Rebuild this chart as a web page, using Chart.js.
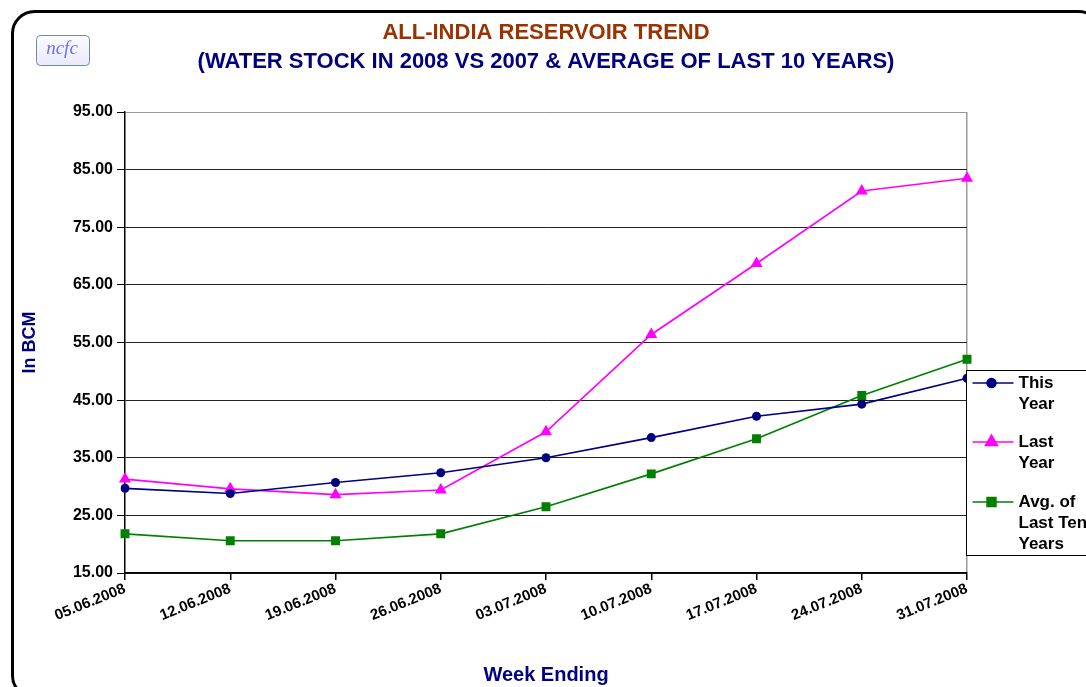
<!DOCTYPE html>
<html>
<head>
<meta charset="utf-8">
<script src="https://cdn.jsdelivr.net/npm/chart.js@4.4.1/dist/chart.umd.min.js"></script>
<style>
  html, body { margin: 0; padding: 0; background: #fff; }
  #wrap { width: 1086px; height: 687px; position: relative; }
</style>
</head>
<body>
<div id="wrap"><canvas id="chart" width="1086" height="687"></canvas></div>
<script>
let weeks = ["05.06.2008", "12.06.2008", "19.06.2008", "26.06.2008", "03.07.2008",
  "10.07.2008", "17.07.2008", "24.07.2008", "31.07.2008"];
let this_year = [29.7, 28.8, 30.7, 32.4, 35.0, 38.5, 42.2, 44.3, 48.8];
let last_year = [31.3, 29.6, 28.6, 29.4, 39.5, 56.4, 68.7, 81.3, 83.5];
let avg_ten = [21.8, 20.6, 20.6, 21.8, 26.5, 32.2, 38.3, 45.8, 52.1];
let legend_labels = [["This", "Year"], ["Last", "Year"], ["Avg. of", "Last Ten", "Years"]];

let font_family = "'Liberation Sans', Arial, sans-serif";
let color_this = "#000080";
let color_last = "#FF00FF";
let color_avg = "#008000";

// frame, logo and the boxed legend drawn on the canvas
let decorations = {
  id: "decorations",
  beforeDraw(chart) {
    let ctx = chart.ctx;
    ctx.save();
    ctx.fillStyle = "#fff";
    ctx.fillRect(0, 0, chart.width, chart.height);
    ctx.lineWidth = 3;
    ctx.strokeStyle = "#000";
    ctx.beginPath();
    ctx.roundRect(12.5, 11.5, 1088, 686, 22);
    ctx.stroke();

    // logo
    ctx.lineWidth = 1;
    ctx.strokeStyle = "#6f8f8f";
    let grad = ctx.createLinearGradient(0, 35, 0, 66);
    grad.addColorStop(0, "#fbfbff");
    grad.addColorStop(1, "#e9e9ff");
    ctx.fillStyle = grad;
    ctx.beginPath();
    ctx.roundRect(36.5, 35.5, 53, 30, 4);
    ctx.fill();
    ctx.stroke();
    ctx.fillStyle = "#7070f0";
    ctx.font = "italic 19px 'Liberation Serif', 'DejaVu Serif', serif";
    ctx.textAlign = "center";
    ctx.textBaseline = "middle";
    ctx.fillText("ncfc", 62, 49);
    ctx.restore();
  },
  afterDraw(chart) {
    let ctx = chart.ctx;
    let area = chart.chartArea;
    let left = area.right - 0.5;
    let top = 370.5;
    ctx.save();
    ctx.fillStyle = "#fff";
    ctx.strokeStyle = "#000";
    ctx.lineWidth = 1;
    ctx.fillRect(left, top, 140, 185);
    ctx.strokeRect(left, top, 140, 185);

    let item_y = [383, 442, 502];
    chart.data.datasets.forEach((ds, i) => {
      let y = item_y[i];
      ctx.strokeStyle = ds.borderColor;
      ctx.lineWidth = 1.5;
      ctx.beginPath();
      ctx.moveTo(left + 6, y);
      ctx.lineTo(left + 47, y);
      ctx.stroke();
      Chart.helpers.drawPoint(ctx, {
        pointStyle: ds.pointStyle,
        radius: ds.pointRadius,
        rotation: 0,
        borderWidth: 1
      }, left + 25, y);
      ctx.fillStyle = ds.borderColor;
      ctx.fill();
      ctx.fillStyle = "#000";
      ctx.font = "bold 17px " + font_family;
      ctx.textAlign = "left";
      ctx.textBaseline = "middle";
      legend_labels[i].forEach((line, j) => {
        ctx.fillText(line, left + 52, y + j * 21);
      });
    });
    ctx.restore();
  }
};

let config = {
  type: "line",
  data: {
    labels: weeks,
    datasets: [
      {
        label: "This Year",
        data: this_year,
        borderColor: color_this,
        backgroundColor: color_this,
        borderWidth: 1.7,
        pointStyle: "circle",
        pointRadius: 4.5,
        pointBorderWidth: 0
      },
      {
        label: "Last Year",
        data: last_year,
        borderColor: color_last,
        backgroundColor: color_last,
        borderWidth: 1.7,
        pointStyle: "triangle",
        pointRadius: 7,
        pointBorderWidth: 0
      },
      {
        label: "Avg. of Last Ten Years",
        data: avg_ten,
        borderColor: color_avg,
        backgroundColor: color_avg,
        borderWidth: 1.7,
        pointStyle: "rect",
        pointRadius: 6.3,
        pointBorderWidth: 0
      }
    ]
  },
  options: {
    responsive: false,
    animation: false,
    layout: { padding: { left: 6, right: 0, top: 0, bottom: 0 } },
    plugins: {
      legend: { display: false },
      tooltip: { enabled: false },
      title: {
        display: true,
        text: "ALL-INDIA RESERVOIR TREND",
        color: "#993300",
        font: { family: font_family, size: 22, weight: "bold" },
        padding: { top: 19.8, bottom: 2.6 }
      },
      subtitle: {
        display: true,
        text: "(WATER STOCK IN 2008 VS 2007 & AVERAGE OF LAST 10 YEARS)",
        color: "#000080",
        font: { family: font_family, size: 22, weight: "bold" },
        padding: { top: 0, bottom: 36.8 }
      }
    },
    scales: {
      x: {
        afterFit(scale) { scale.height = 114; },
        grid: {
          drawOnChartArea: true,
          color: (c) => (c.index === weeks.length - 1 ? "#999" : "rgba(0,0,0,0)"),
          tickColor: "#000",
          tickLength: 7,
          lineWidth: 1.5
        },
        border: { color: "#000", width: 1.5 },
        ticks: {
          color: "#000",
          minRotation: 22,
          maxRotation: 22,
          autoSkip: false,
          padding: 0,
          font: { family: font_family, size: 15, weight: "bold" }
        },
        title: {
          display: true,
          text: "Week Ending",
          color: "#000080",
          font: { family: font_family, size: 20, weight: "bold" },
          padding: { top: 0, bottom: 0 }
        }
      },
      y: {
        min: 15,
        max: 95,
        afterFit(scale) { scale.width = 119; },
        grid: {
          color: (c) => (c.tick.value === 95 ? "#999" : "#222"),
          tickColor: "#000",
          tickLength: 8,
          lineWidth: 1
        },
        border: { color: "#000", width: 1.5 },
        ticks: {
          stepSize: 10,
          color: "#000",
          padding: 4,
          font: { family: font_family, size: 16, weight: "bold" },
          callback: (v) => v.toFixed(2)
        },
        title: {
          display: true,
          text: "In BCM",
          color: "#000080",
          font: { family: font_family, size: 18, weight: "bold" },
          padding: { top: 13, bottom: 0 }
        }
      },
      // empty right-hand axis that keeps room for the legend box
      y_space: {
        type: "linear",
        position: "right",
        afterFit(scale) { scale.width = 119; },
        grid: { display: false, drawTicks: false },
        border: { display: false },
        ticks: { display: false }
      }
    }
  },
  plugins: [decorations]
};

let chart = new Chart(document.getElementById("chart"), config);
</script>
</body>
</html>
